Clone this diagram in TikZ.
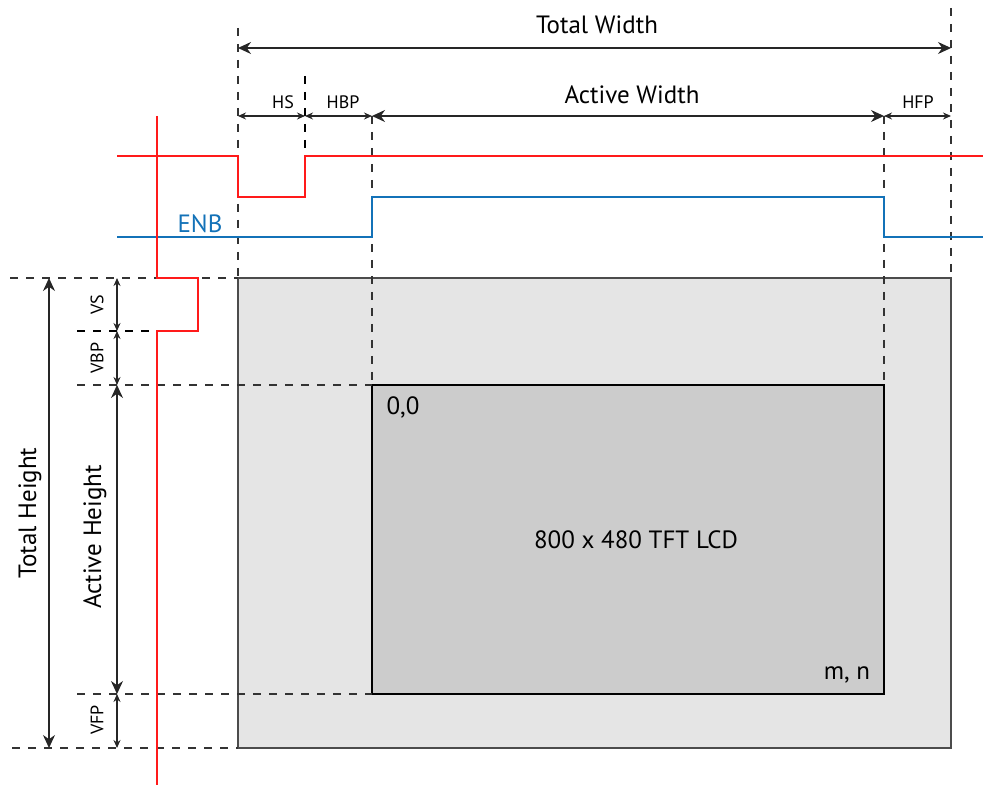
\documentclass[tikz,border=0pt]{standalone}
\usepackage{fontspec}
\setmainfont{PT Sans}
\usetikzlibrary{arrows.meta}
\definecolor{syncred}{HTML}{FF1A1A}
\definecolor{enbblue}{HTML}{1372B8}
\definecolor{porchgray}{HTML}{E5E5E5}
\definecolor{activegray}{HTML}{CCCCCC}
\tikzset{
  guide/.style={dash pattern=on 4pt off 4pt, line width=0.6pt, black!80},
  guidebold/.style={dash pattern=on 4pt off 4pt, line width=1pt, black},
  bigdim/.style={line width=0.6pt, black!85, {Stealth[length=6.5pt,width=6pt]}-{Stealth[length=6.5pt,width=6pt]}},
  smalldim/.style={line width=0.6pt, black!85, {Stealth[length=4pt,width=3.5pt]}-{Stealth[length=4pt,width=3.5pt]}},
  sig/.style={line width=1pt},
  biglbl/.style={font=\fontsize{12.5}{14}\selectfont, inner sep=0pt},
  smalllbl/.style={font=\fontsize{9}{10}\selectfont, inner sep=0pt},
}
\begin{document}
\begin{tikzpicture}[x=0.5pt,y=-0.5pt]
\useasboundingbox (0,0) rectangle (983,785);
% corners of the frame and of the active area
\coordinate (frametl) at (238,278);
\coordinate (framebr) at (951,748);
\coordinate (acttl) at (372,385);
\coordinate (actbr) at (884,694);
\filldraw[fill=porchgray, draw=black!70, line width=0.6pt] (frametl) rectangle (framebr);
\filldraw[fill=activegray, draw=black, line width=0.6pt] (acttl) rectangle (actbr);
% guide lines
\draw[guide] (238,28) -- (frametl);
\draw[guidebold] (305,76) -- (305,157);
\draw[guide] (372,116) -- (acttl);
\draw[guide] (884,116) -- (actbr|-acttl);
\draw[guide] (951,8) -- (framebr|-frametl);
\draw[guide] (10,278) -- (frametl);
\draw[guidebold] (77,331) -- (157,331);
\draw[guide] (77,385) -- (acttl);
\draw[guide] (77,694) -- (acttl|-actbr);
\draw[guide] (12,748) -- (frametl|-framebr);
% dimensions
\draw[bigdim] (238,48) -- (951,48);
\draw[smalldim] (238,116) -- (305,116);
\draw[smalldim] (305,116) -- (372,116);
\draw[bigdim] (372,116) -- (884,116);
\draw[smalldim] (884,116) -- (951,116);
\draw[bigdim] (49,278) -- (49,748);
\draw[smalldim] (117,278) -- (117,331);
\draw[smalldim] (117,331) -- (117,385);
\draw[bigdim] (117,385) -- (117,694);
\draw[smalldim] (117,694) -- (117,748);
% signals
\draw[sig, syncred] (117,156) -| (238,197) -| (305,156) -- (983,156);
\draw[sig, enbblue] (117,237) -| (372,197) -| (884,237) -- (983,237);
\draw[sig, syncred] (157,116) |- (198,278) |- (157,331) -- (157,785);
% labels
\node[biglbl] (totalw) at (597,25) {Total Width};
\node[smalllbl] (hs) at (283,102) {HS};
\node[smalllbl] (hbp) at (343,102) {HBP};
\node[biglbl] (activew) at (632,95) {Active Width};
\node[smalllbl] (hfp) at (918,102) {HFP};
\node[biglbl, enbblue] (enb) at (200,224) {ENB};
\node[biglbl, rotate=90] (totalh) at (30,513) {Total Height};
\node[biglbl, rotate=90] (activeh) at (95,537) {Active Height};
\node[smalllbl, rotate=90] (vs) at (97,305) {VS};
\node[smalllbl, rotate=90] (vbp) at (97,358) {VBP};
\node[smalllbl, rotate=90] (vfp) at (97,720) {VFP};
\node[biglbl] (origin) at (403,407) {0,0};
\node[biglbl] (lcd) at (636,540) {800 x 480 TFT LCD};
\node[biglbl] (corner) at (847,675) {m, n};
\end{tikzpicture}
\end{document}
